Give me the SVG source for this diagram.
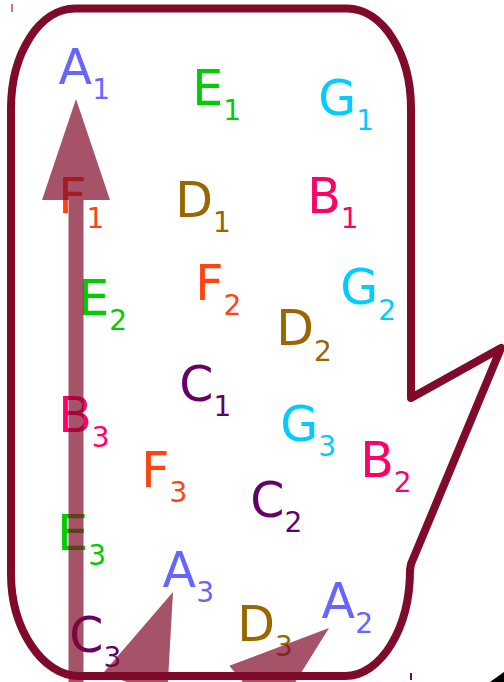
<svg xmlns="http://www.w3.org/2000/svg" width="504" height="682" viewBox="0 0 504 682">
<style>
text{font-family:"DejaVu Sans","Liberation Sans",sans-serif;font-size:49px}
.s{font-size:28px}
.A{fill:#6666ff}.B{fill:#ff0066}.C{fill:#660066}.D{fill:#996600}.E{fill:#00cc00}.F{fill:#ff4411}.G{fill:#00ccff}
.arrow{fill:#800a2a;fill-opacity:0.7}
</style>
<rect width="504" height="682" fill="#ffffff"/>
<g id="bubble">
<path d="M75,8.5 L347,8.5 C382.3,8.5 411,53.3 411,108.5 L411,398 L501,348 L411,564 L410,570 C410,628 381,676 345,676 L79,676 C42,676 11,628 11,574 L11,108.5 C11,53.3 39.7,8.5 75,8.5 Z" fill="none" stroke="#800a2a" stroke-width="8" stroke-linejoin="round"/>
</g>
<g id="marks">
<line x1="12" y1="4" x2="12" y2="12" stroke="#c07a90" stroke-width="2"/>
<line x1="411" y1="673" x2="411" y2="680" stroke="#800a2a" stroke-width="2"/>
<polygon points="490,682 504,672 504,682" fill="#000000"/>
</g>
<g id="nodes">
<g id="A1"><text class="A" x="58.6" y="84">A<tspan class="s" dy="15">1</tspan></text></g>
<g id="E1"><text class="E" x="192.2" y="105">E<tspan class="s" dy="15">1</tspan></text></g>
<g id="G1"><text class="G" x="318.3" y="115">G<tspan class="s" dy="15">1</tspan></text></g>
<g id="F1"><text class="F" x="58.2" y="213">F<tspan class="s" dy="15">1</tspan></text></g>
<g id="D1"><text class="D" x="175.2" y="217">D<tspan class="s" dy="15">1</tspan></text></g>
<g id="B1"><text class="B" x="307.2" y="213">B<tspan class="s" dy="15">1</tspan></text></g>
<g id="E2"><text class="E" x="78.2" y="315">E<tspan class="s" dy="15">2</tspan></text></g>
<g id="F2"><text class="F" x="195.2" y="300">F<tspan class="s" dy="15">2</tspan></text></g>
<g id="G2"><text class="G" x="340.3" y="304">G<tspan class="s" dy="16">2</tspan></text></g>
<g id="D2"><text class="D" x="276.2" y="345">D<tspan class="s" dy="16">2</tspan></text></g>
<g id="C1"><text class="C" x="179.3" y="401">C<tspan class="s" dy="15">1</tspan></text></g>
<g id="G3"><text class="G" x="280.3" y="441">G<tspan class="s" dy="15">3</tspan></text></g>
<g id="B2"><text class="B" x="360.2" y="477">B<tspan class="s" dy="15">2</tspan></text></g>
<g id="F3"><text class="F" x="141.2" y="487">F<tspan class="s" dy="15">3</tspan></text></g>
<g id="C2"><text class="C" x="250.3" y="517">C<tspan class="s" dy="15">2</tspan></text></g>
<g id="B3"><text class="B" x="58.2" y="432">B<tspan class="s" dy="15">3</tspan></text></g>
<g id="E3"><text class="E" x="57.2" y="550">E<tspan class="s" dy="15">3</tspan></text></g>
<g id="A3"><text class="A" x="162.6" y="587">A<tspan class="s" dy="15">3</tspan></text></g>
<g id="A2"><text class="A" x="321.6" y="618">A<tspan class="s" dy="15">2</tspan></text></g>
<g id="D3"><text class="D" x="237.2" y="641">D<tspan class="s" dy="15">3</tspan></text></g>
<g id="C3"><text class="C" x="69.3" y="652">C<tspan class="s" dy="15">3</tspan></text></g>
</g>
<g id="connectors">
<path class="arrow" d="M68.5,700 L68.5,200 L42,200 L76,99 L110,200 L83.5,200 L83.5,700 Z"/>
<path class="arrow" d="M173,592 L167,698.4 L142.2,688.3 L104.7,781 L90.8,775.4 L128.3,682.7 L103.4,672.7 Z"/>
<path class="arrow" d="M329,628 L272.7,718.5 L255.8,697.8 L180,790 L168,780 L246.3,686.2 L229.3,665.8 Z"/>
</g>
</svg>
